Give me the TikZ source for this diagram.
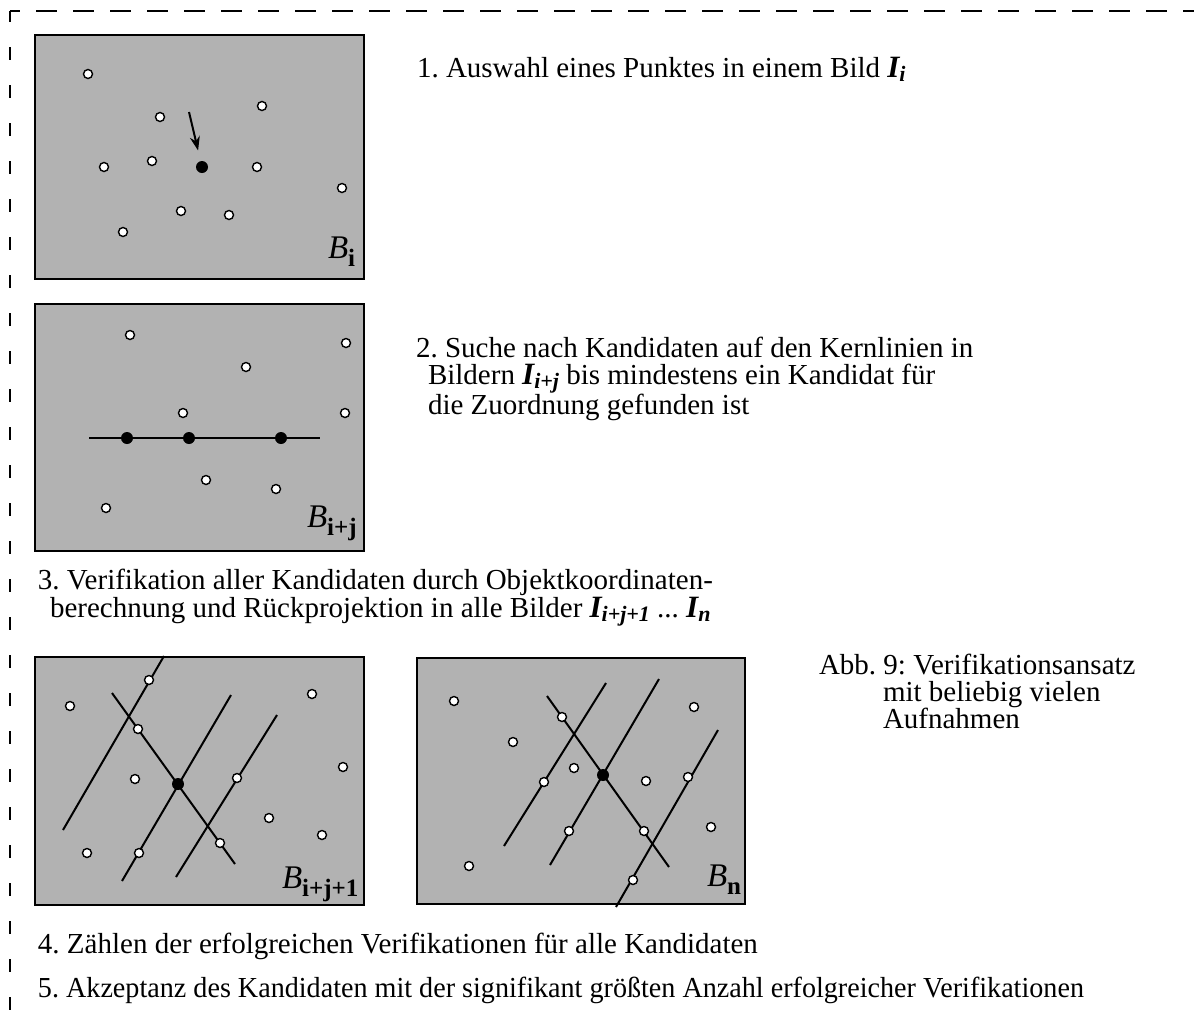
\documentclass[tikz,border=0pt]{standalone}
\usepackage{fontspec}
\usepackage{graphicx}
\setmainfont{Liberation Serif}
\usetikzlibrary{arrows.meta}
\frenchspacing

\newcommand{\bild}[1]{\textit{B}\raisebox{-0.55ex}{\fontsize{12.5}{12.5}\selectfont\bfseries #1}}
\newcommand{\img}[1]{{\fontsize{15.5}{15}\selectfont\bfseries\itshape I\raisebox{-0.35ex}{\fontsize{11}{11}\selectfont #1}}}

\begin{document}
\begin{tikzpicture}[x=0.5pt, y=-0.5pt, line width=1pt,
  font=\fontsize{14.5}{14}\selectfont,
  bildbox/.style={draw, fill=black!30, line width=1.25pt},
  pkt/.style={draw, fill=white, line width=0.7pt},
  txt/.style={anchor=base west, inner sep=0pt},
  marke/.style={anchor=base west, inner sep=0pt, font=\fontsize{16.5}{16}\selectfont}]
  \useasboundingbox (0,0) rectangle (1194,1029);
  % frame
  \draw[line width=0.75pt, dash pattern=on 10.5pt off 8pt, dash phase=5.5pt] (10,11) -- (1200,11);
  \draw[line width=0.75pt, dash pattern=on 6.5pt off 12.5pt, dash phase=1pt] (10,11) -- (10,1040);

  % picture i
  \draw[bildbox] (35,35) rectangle (364,279);
  \foreach \p in {(88,74), (160,117), (262,106), (104,167), (152,161), (257,167),
                  (342,188), (181,211), (229,215), (123,232)} { \draw[pkt] \p circle (2.25pt); }
  \coordinate (wahl) at (202,167);
  \coordinate (pfeil) at (189,112);
  \fill (wahl) circle (3pt);
  \draw[-{Stealth[length=7pt, width=5pt]}, shorten >=8.5pt] (pfeil) -- (wahl);
  \node[marke] (bi) at (327,258) {\bild{i}};

  % picture i+j
  \draw[bildbox] (35,304) rectangle (364,551);
  \foreach \p in {(130,335), (346,343), (246,367), (183,413), (345,413),
                  (206,480), (276,489), (106,508)} { \draw[pkt] \p circle (2.25pt); }
  \draw (89,438) -- (320,438);
  \foreach \x in {127, 189, 281} { \fill (\x,438) circle (3pt); }
  \node[marke] (bij) at (306,527) {\bild{i+j}};

  % picture i+j+1
  \draw[bildbox] (35,657) rectangle (364,905);
  \draw (164,656) -- (63,830);
  \draw (112,693) -- (235,864);
  \draw (231,695) -- (122,881);
  \draw (277,715) -- (176,877);
  \foreach \p in {(149,680), (70,706), (312,694), (138,729), (343,767), (135,779),
                  (237,778), (269,818), (322,835), (220,843), (87,853), (139,853)} { \draw[pkt] \p circle (2.25pt); }
  \fill (178,784) circle (3pt);
  \node[marke] (bij1) at (281,888) {\bild{i+j+1}};

  % picture n
  \draw[bildbox] (417,658) rectangle (745,904);
  \draw (547,696) -- (669,867);
  \draw (606,683) -- (504,846);
  \draw (659,679) -- (550,865);
  \draw (718,730) -- (616,907);
  \foreach \p in {(454,701), (694,707), (562,717), (513,742), (574,768), (646,781),
                  (688,777), (544,782), (711,827), (569,831), (644,831), (469,866),
                  (633,880)} { \draw[pkt] \p circle (2.25pt); }
  \fill (603,775) circle (3pt);
  \node[marke] (bn) at (706,886) {\bild{n}};

  % steps
  \node[txt] (s1) at (416,77) {1. Auswahl eines Punktes in einem Bild \img{i}};
  \node[txt] (s2a) at (415,357) {2. Suche nach Kandidaten auf den Kernlinien in};
  \node[txt] (s2b) at (427,384) {Bildern \img{i+j} bis mindestens ein Kandidat für};
  \node[txt] (s2c) at (427,414) {die Zuordnung gefunden ist};
  \node[txt] (s3a) at (37,589) {3. Verifikation aller Kandidaten durch Objektkoordinaten-};
  \node[txt] (s3b) at (49,617) {berechnung und Rückprojektion in alle Bilder \img{i+j+1} ... \img{n}};
  \node[txt] (s4) at (37,953) {4. Zählen der erfolgreichen Verifikationen für alle Kandidaten};
  \node[txt] (s5) at (37,997) {\scalebox{0.97}[1]{5. Akzeptanz des Kandidaten mit der signifikant größten Anzahl erfolgreicher Verifikationen}};

  % caption
  \node[txt] (abb1) at (818,674) {Abb. 9: Verifikationsansatz};
  \node[txt] (abb2) at (882,701) {mit beliebig vielen};
  \node[txt] (abb3) at (882,728) {Aufnahmen};
\end{tikzpicture}
\end{document}
